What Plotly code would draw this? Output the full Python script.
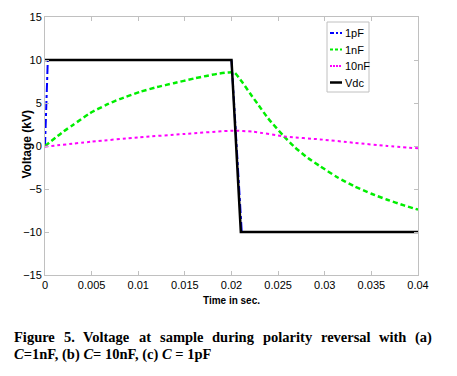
import plotly.graph_objects as go

# 1pF (blue dash-dot)
t_1pf = [0, 0.0003, 0.02, 0.0211, 0.04]
v_1pf = [0, 10, 10, -10, -10]

# 1nF (green dashed)
t_1nf = [0, 0.002, 0.003, 0.0048, 0.0066, 0.008, 0.0102, 0.012, 0.0138, 0.016, 0.0173, 0.0185, 0.0196, 0.0203,
         0.0211, 0.022, 0.0229, 0.0239, 0.0256, 0.0268, 0.0282, 0.0295, 0.0313, 0.0331, 0.035, 0.0367, 0.0385, 0.04]
v_1nf = [0, 1.7, 2.45, 3.8, 4.8, 5.45, 6.3, 6.85, 7.3, 7.85, 8.15, 8.4, 8.55, 8.55,
         7.5, 6.1, 4.75, 3.25, 1.15, -0.15, -1.4, -2.35, -3.6, -4.65, -5.55, -6.25, -6.9, -7.4]

# 10nF (magenta dotted)
t_10nf = [0, 0.005, 0.01, 0.015, 0.0202, 0.0223, 0.0259, 0.0295, 0.0331, 0.0367, 0.04]
v_10nf = [-0.08, 0.5, 1.0, 1.4, 1.78, 1.66, 1.08, 0.77, 0.38, 0.0, -0.27]

# Vdc (black solid)
t_vdc = [0, 0.02, 0.021, 0.04]
v_vdc = [10, 10, -10, -10]

series_names = ["1pF", "1nF", "10nF", "Vdc"]
series_colors = ["#0000ff", "#00ee00", "#ff00ff", "#000000"]
series_dash = ["dashdot", "5px,3px", "dot", "solid"]
legend_dash = ["4px,2px,2px,2px", "3px,2px", "2px,1px", "solid"]

x_ticks = [0, 0.005, 0.01, 0.015, 0.02, 0.025, 0.03, 0.035, 0.04]
x_ticktext = ["0", "0.005", "0.01", "0.015", "0.02", "0.025", "0.03", "0.035", "0.04"]
y_ticks = [-15, -10, -5, 0, 5, 10, 15]

caption_line1_words = ["Figure", "5.", "Voltage", "at", "sample", "during", "polarity", "reversal", "with", "(a)"]
caption_line2 = "<b><i>C</i>=1nF, (b) <i>C</i>= 10nF, (c) <i>C</i> = 1pF</b>"

# ---- figure geometry (pixels) ----
W, H = 457, 376
L, R, T, B = 45, 39, 17, 101
PW, PH = W - L - R, H - T - B


def px_x(p):
    return (p - L) / PW


def px_y(p):
    return (H - B - p) / PH


fig = go.Figure()
data = [(t_1pf, v_1pf, 2, "linear"), (t_1nf, v_1nf, 2.5, "spline"),
        (t_10nf, v_10nf, 2, "spline"), (t_vdc, v_vdc, 2.5, "linear")]
for (tx, vy, w, shape), name, col, dash in zip(data, series_names, series_colors, series_dash):
    fig.add_trace(go.Scatter(x=tx, y=vy, mode="lines", name=name, line_shape=shape,
                             line=dict(color=col, width=w, dash=dash, smoothing=0.6 if shape == "spline" else None),
                             showlegend=False))

axis_common = dict(showgrid=False, zeroline=False, showline=True, linecolor="#c0c0c0", linewidth=1,
                   mirror="ticks", ticks="inside", ticklen=4, tickcolor="#c0c0c0", automargin=False,
                   tickfont=dict(family="Arial", size=11, color="#000000"))

fig.update_xaxes(range=[0, 0.04], tickvals=x_ticks, ticktext=x_ticktext,
                 title=dict(text="<b>Time in sec.</b>", font=dict(family="Arial", size=10, color="#000"), standoff=6),
                 **axis_common)
fig.update_yaxes(range=[-15, 15], tickvals=y_ticks, **axis_common)

annotations = [dict(xref="paper", yref="paper", x=px_x(26.5), y=px_y(145), xanchor="center", yanchor="middle",
                    textangle=-90, showarrow=False, text="<b>Voltage (kV)</b>",
                    font=dict(family="Arial", size=12, color="#000"))]

# compact legend
shapes = [dict(type="rect", xref="paper", yref="paper", x0=px_x(327), x1=px_x(369), y0=px_y(92), y1=px_y(22),
               line=dict(color="#c0c0c0", width=1), fillcolor="white", layer="above")]
leg_y = [33, 49.5, 66, 82.5]
for name, col, dash, yy in zip(series_names, series_colors, legend_dash, leg_y):
    shapes.append(dict(type="line", xref="paper", yref="paper", x0=px_x(330), x1=px_x(342),
                       y0=px_y(yy), y1=px_y(yy), layer="above",
                       line=dict(color=col, width=2 if dash != "solid" else 2.5, dash=dash)))
    annotations.append(dict(xref="paper", yref="paper", x=px_x(343), y=px_y(yy), xanchor="left", yanchor="middle",
                            showarrow=False, text=name, font=dict(family="Arial", size=11, color="#000")))

# caption, line 1 justified word by word (Times-Bold advance widths, 1/1000 em)
tb_w = {"F": 611, "i": 278, "g": 500, "u": 556, "r": 444, "e": 444, "5": 500, ".": 250, "V": 722, "o": 500,
        "l": 278, "t": 333, "a": 500, "s": 389, "m": 833, "p": 556, "d": 556, "n": 556, "y": 500, "v": 500,
        "w": 722, "h": 556, "(": 333, ")": 333}
cap_size = 14.5
line_left, line_right = 12, 430
widths = [sum(tb_w.get(c, 500) for c in wd) * cap_size / 1000 for wd in caption_line1_words]
gap = (line_right - line_left - sum(widths)) / (len(widths) - 1)
xl = line_left
for wtxt, wdt in zip(caption_line1_words, widths):
    annotations.append(dict(xref="paper", yref="paper", x=px_x(xl), y=px_y(337), xanchor="left", yanchor="middle",
                            showarrow=False, text=f"<b>{wtxt}</b>",
                            font=dict(family="Liberation Serif", size=cap_size, color="#000")))
    xl += wdt + gap
annotations.append(dict(xref="paper", yref="paper", x=px_x(12), y=px_y(354), xanchor="left", yanchor="middle",
                        showarrow=False, text=caption_line2,
                        font=dict(family="Liberation Serif", size=cap_size, color="#000")))

fig.update_layout(
    width=W, height=H,
    margin=dict(l=L, r=R, t=T, b=B),
    paper_bgcolor="white", plot_bgcolor="white",
    showlegend=False,
    shapes=shapes, annotations=annotations,
)

fig.write_html("out.html", config={"displayModeBar": False},
               post_script="document.body.style.margin='0';")
